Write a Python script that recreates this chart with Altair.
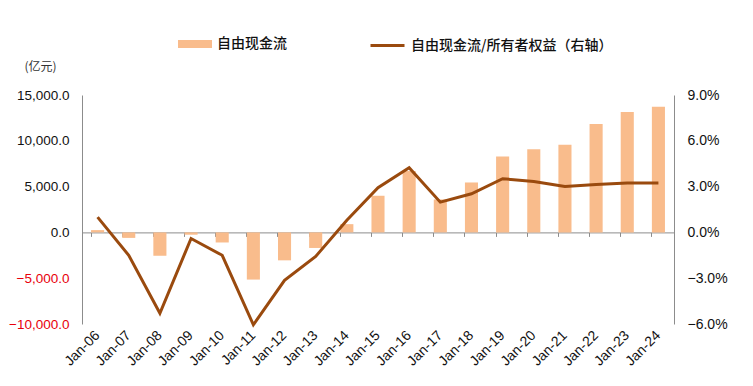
import altair as alt
import pandas as pd

years = ["Jan-06", "Jan-07", "Jan-08", "Jan-09", "Jan-10", "Jan-11", "Jan-12", "Jan-13",
         "Jan-14", "Jan-15", "Jan-16", "Jan-17", "Jan-18", "Jan-19", "Jan-20", "Jan-21",
         "Jan-22", "Jan-23", "Jan-24"]
fcf = [250, -600, -2550, -250, -1100, -5150, -3050, -1700, 900, 4000, 6700, 3600,
       5450, 8280, 9080, 9580, 11840, 13150, 13730]
ratio = [1.0, -1.5, -5.3, -0.4, -1.5, -6.05, -3.14, -1.57, 0.8, 2.93, 4.24, 1.98,
         2.53, 3.52, 3.34, 3.01, 3.14, 3.23, 3.23]

bar_name = "自由现金流"
line_name = "自由现金流/所有者权益（右轴）"
bar_color = "#F9BC8C"
line_color = "#9A4A0E"

df = pd.DataFrame({"year": years, "fcf": fcf, "ratio": ratio,
                   "s1": bar_name, "s2": line_name})

FONT = "Liberation Sans"
CJK = "Noto Sans CJK SC"
AX = "#8c8c8c"

x_scale = alt.Scale(paddingInner=0.58, paddingOuter=0.29)

bar_legend = alt.Legend(
    title=None, orient="none", legendX=96, legendY=-68,
    labelFont=CJK, labelFontSize=14, labelColor="#111", labelFontWeight=500,
    symbolSize=1156, symbolType="M-1,-0.24H1V0.24H-1Z", symbolStrokeWidth=0,
    labelOffset=5,
)
line_legend = alt.Legend(
    title=None, orient="none", legendX=287, legendY=-68,
    labelFont=CJK, labelFontSize=14, labelColor="#111", labelFontWeight=500,
    symbolSize=1156, symbolType="stroke", symbolStrokeWidth=3, labelOffset=5,
    labelLimit=400,
)

bars = alt.Chart(df).mark_bar().encode(
    x=alt.X("year:N", sort=years, scale=x_scale,
            axis=alt.Axis(title=None, labelAngle=-45, labelFont=FONT, labelFontSize=14,
                          labelColor="#111", ticks=False, domain=False, labelPadding=9,
                          labelAlign="right", labelBaseline="middle")),
    y=alt.Y("fcf:Q", scale=alt.Scale(domain=[-10000, 15000], nice=False),
            axis=alt.Axis(title="(亿元)", titleAngle=0, titleX=-42, titleY=-22,
                          titleAlign="center", titleFont=CJK, titleFontSize=12,
                          titleFontWeight="normal", titleColor="#333",
                          values=[-10000, -5000, 0, 5000, 10000, 15000], format=",.1f",
                          labelFont=FONT, labelFontSize=13.5, labelPadding=13,
                          labelFlush=False, labelBound=False,
                          labelColor={"expr": "datum.value < 0 ? '#e8000b' : '#111'"},
                          grid=False, domainColor=AX, ticks=False)),
    color=alt.Color("s1:N", scale=alt.Scale(range=[bar_color]), legend=bar_legend),
)

line = alt.Chart(df).mark_line(strokeWidth=3, strokeJoin="miter").encode(
    x=alt.X("year:N", sort=years, scale=x_scale,
            axis=alt.Axis(title=None, orient="bottom", offset=-91.6, labels=False,
                          bandPosition=0, domainColor=AX, tickColor=AX, tickSize=4)),
    y=alt.Y("ratio:Q", scale=alt.Scale(domain=[-6, 9], nice=False),
            axis=alt.Axis(title=None, orient="right", values=[-6, -3, 0, 3, 6, 9],
                          labelExpr="format(datum.value, '.1f') + '%'",
                          labelFont=FONT, labelFontSize=14, labelColor="#111",
                          labelPadding=13, grid=False, domainColor=AX, ticks=False)),
    color=alt.Color("s2:N", scale=alt.Scale(range=[line_color]), legend=line_legend),
)

chart = alt.layer(bars, line).resolve_scale(
    y="independent", color="independent"
).resolve_axis(
    x="independent", y="independent"
).resolve_legend(color="independent").properties(
    width=592, height=229,
    autosize=alt.AutoSizeParams(type="none"),
    padding={"left": 74, "top": 87, "right": 71, "bottom": 54},
).configure_view(stroke=None)

chart.save("out.html", embed_options={"renderer": "svg", "actions": False})
